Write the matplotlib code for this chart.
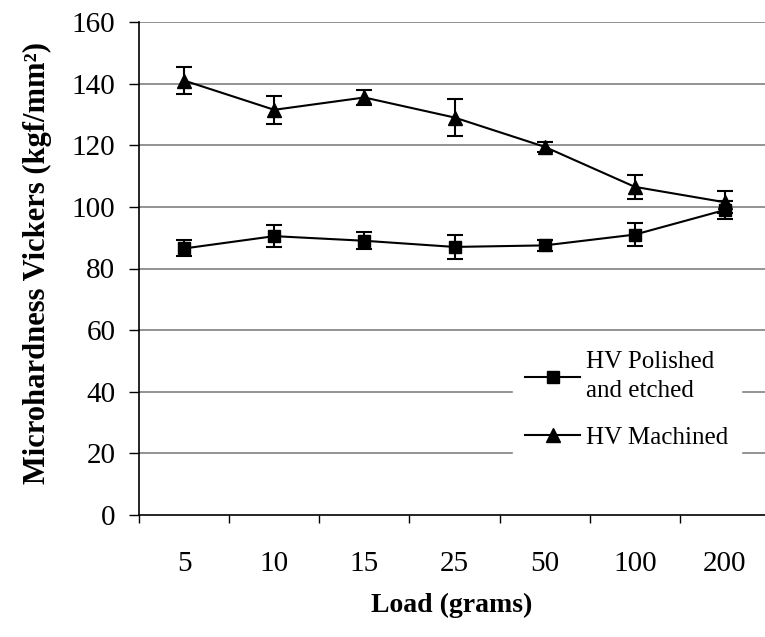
import matplotlib
matplotlib.use("Agg")
import matplotlib.pyplot as plt
from matplotlib.lines import Line2D
import numpy as np

loads = ["5", "10", "15", "25", "50", "100", "200"]
polished = [86.5, 90.5, 89.0, 87.0, 87.5, 91.0, 99.0]
polished_err = [2.6, 3.5, 2.7, 3.9, 1.9, 3.8, 3.0]
machined = [141.0, 131.5, 135.5, 129.0, 119.5, 106.5, 101.5]
machined_err = [4.5, 4.5, 2.5, 6.0, 1.7, 4.0, 3.5]
yticks = [0, 20, 40, 60, 80, 100, 120, 140, 160]
labels = ['HV Polished\nand etched', 'HV Machined']

plt.rcParams['font.family'] = ['Liberation Serif', 'DejaVu Serif']

W, H = 765, 637
fig = plt.figure(figsize=(W/100, H/100), dpi=100)
left, right = 139/W, 770/W
bottom, top = 1 - 515/H, 1 - 22/H
ax = fig.add_axes([left, bottom, right-left, top-bottom])

x = np.arange(len(loads))
ax.errorbar(x, polished, yerr=polished_err, color='black', marker='s', markersize=8,
            linewidth=1.5, capsize=6, capthick=1.5, elinewidth=1.5, zorder=3)
ax.errorbar(x, machined, yerr=machined_err, color='black', marker='^', markersize=10,
            linewidth=1.5, capsize=6, capthick=1.5, elinewidth=1.5, zorder=3)

ax.set_xlim(-0.5, len(loads) - 0.5)
ax.set_ylim(0, 160)
ax.set_yticks(yticks)
ax.set_xticks(x)
ax.set_xticklabels(loads)
ax.set_xticks(np.arange(len(loads)) - 0.5, minor=True)
ax.tick_params(axis='x', which='major', length=0, pad=26, labelsize=21)
ax.tick_params(axis='x', which='minor', length=6, width=1, direction='out', color='black')
ax.tick_params(axis='y', length=7, width=1, direction='out', labelsize=21, pad=10)

for s in ['top', 'right']:
    ax.spines[s].set_visible(False)
for s in ['left', 'bottom']:
    ax.spines[s].set_color('black')
    ax.spines[s].set_linewidth(1.2)

for yv in yticks[1:]:
    ax.axhline(yv, color='#808080', linewidth=1.2, zorder=1)

fig.text(452 / W, 1 - 605 / H, 'Load (grams)', ha='center', va='center',
         fontsize=20, fontweight='bold')
fig.text(37 / W, 1 - 263 / H, 'Microhardness Vickers (kgf/mm²)', ha='center', va='center',
         rotation=90, fontsize=22, fontweight='bold')

handles = [Line2D([], [], color='black', marker='s', markersize=8, linewidth=1.5),
           Line2D([], [], color='black', marker='^', markersize=10, linewidth=1.5)]
leg = ax.legend(handles, labels, loc='upper left', bbox_to_anchor=(0.592, 0.357), frameon=True,
                fontsize=18, handlelength=2.2, handletextpad=0.25, borderpad=0.5,
                labelspacing=0.95, fancybox=False, borderaxespad=0, framealpha=1.0)
leg.get_frame().set_facecolor('white')
leg.get_frame().set_edgecolor('white')
leg.set_zorder(5)
for t in leg.get_texts():
    t.set_linespacing(1.4)

fig.savefig('out.png', dpi=100)
